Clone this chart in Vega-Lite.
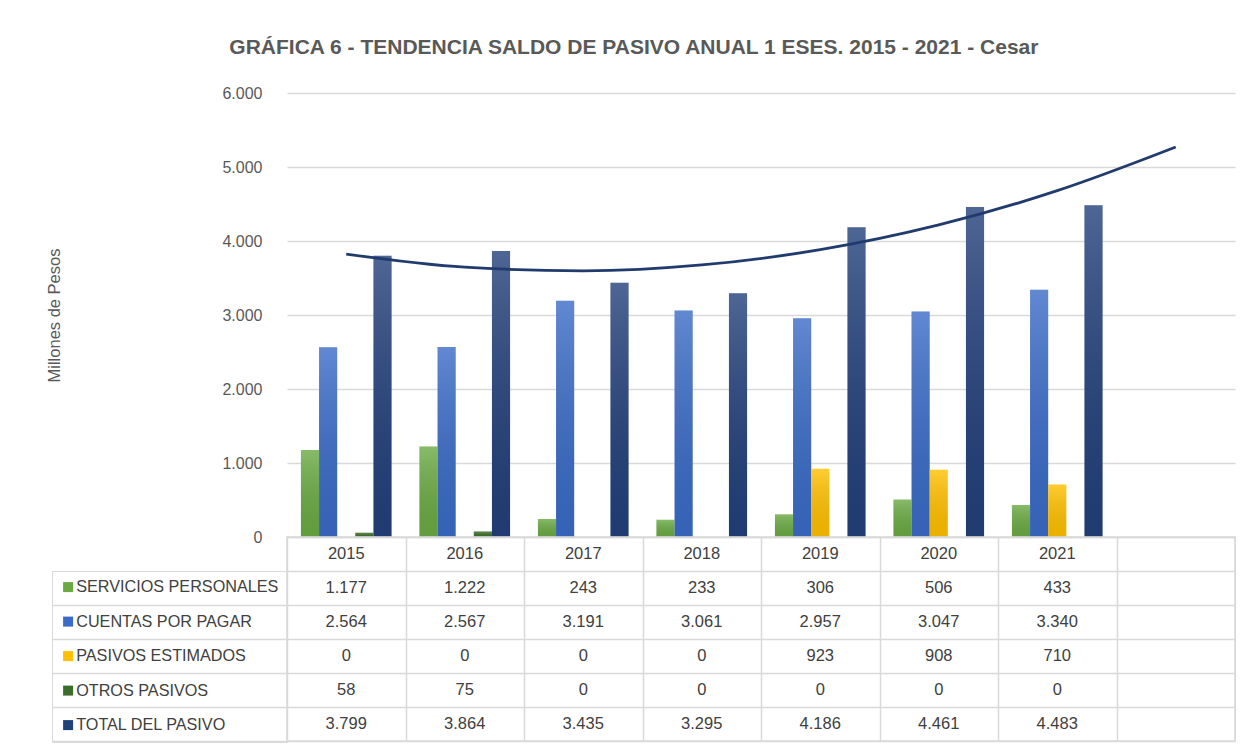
{
  "$schema": "https://vega.github.io/schema/vega-lite/v6.json",
  "padding": {"left": 45, "top": 37, "right": 0, "bottom": 0},
  "background": "white",
  "config": {
    "locale": {"number": {"decimal": ",", "thousands": ".", "grouping": [3], "currency": ["$", ""]}},
    "font": "Liberation Sans",
    "view": {"stroke": null}
  },
  "title": {
    "text": "GRÁFICA 6 - TENDENCIA SALDO DE PASIVO ANUAL 1 ESES. 2015 - 2021 - Cesar",
    "fontSize": 21, "fontWeight": "bold", "color": "#595959",
    "anchor": "middle", "frame": "bounds", "offset": 27, "dx": -7
  },
  "datasets": {
    "d": [
      {"year": "2015", "series": "SERVICIOS PERSONALES", "value": 1177},
      {"year": "2016", "series": "SERVICIOS PERSONALES", "value": 1222},
      {"year": "2017", "series": "SERVICIOS PERSONALES", "value": 243},
      {"year": "2018", "series": "SERVICIOS PERSONALES", "value": 233},
      {"year": "2019", "series": "SERVICIOS PERSONALES", "value": 306},
      {"year": "2020", "series": "SERVICIOS PERSONALES", "value": 506},
      {"year": "2021", "series": "SERVICIOS PERSONALES", "value": 433},
      {"year": "2015", "series": "CUENTAS POR PAGAR", "value": 2564},
      {"year": "2016", "series": "CUENTAS POR PAGAR", "value": 2567},
      {"year": "2017", "series": "CUENTAS POR PAGAR", "value": 3191},
      {"year": "2018", "series": "CUENTAS POR PAGAR", "value": 3061},
      {"year": "2019", "series": "CUENTAS POR PAGAR", "value": 2957},
      {"year": "2020", "series": "CUENTAS POR PAGAR", "value": 3047},
      {"year": "2021", "series": "CUENTAS POR PAGAR", "value": 3340},
      {"year": "2015", "series": "PASIVOS ESTIMADOS", "value": 0},
      {"year": "2016", "series": "PASIVOS ESTIMADOS", "value": 0},
      {"year": "2017", "series": "PASIVOS ESTIMADOS", "value": 0},
      {"year": "2018", "series": "PASIVOS ESTIMADOS", "value": 0},
      {"year": "2019", "series": "PASIVOS ESTIMADOS", "value": 923},
      {"year": "2020", "series": "PASIVOS ESTIMADOS", "value": 908},
      {"year": "2021", "series": "PASIVOS ESTIMADOS", "value": 710},
      {"year": "2015", "series": "OTROS PASIVOS", "value": 58},
      {"year": "2016", "series": "OTROS PASIVOS", "value": 75},
      {"year": "2017", "series": "OTROS PASIVOS", "value": 0},
      {"year": "2018", "series": "OTROS PASIVOS", "value": 0},
      {"year": "2019", "series": "OTROS PASIVOS", "value": 0},
      {"year": "2020", "series": "OTROS PASIVOS", "value": 0},
      {"year": "2021", "series": "OTROS PASIVOS", "value": 0},
      {"year": "2015", "series": "TOTAL DEL PASIVO", "value": 3799},
      {"year": "2016", "series": "TOTAL DEL PASIVO", "value": 3864},
      {"year": "2017", "series": "TOTAL DEL PASIVO", "value": 3435},
      {"year": "2018", "series": "TOTAL DEL PASIVO", "value": 3295},
      {"year": "2019", "series": "TOTAL DEL PASIVO", "value": 4186},
      {"year": "2020", "series": "TOTAL DEL PASIVO", "value": 4461},
      {"year": "2021", "series": "TOTAL DEL PASIVO", "value": 4483}
    ],
    "trend": [
      {"year": "2015", "value": 3823},
      {"year": "2016", "value": 3646},
      {"year": "2017", "value": 3597},
      {"year": "2018", "value": 3676},
      {"year": "2019", "value": 3883},
      {"year": "2020", "value": 4217},
      {"year": "2021", "value": 4680},
      {"year": " ", "value": 5270}
    ],
    "hdr": [
      {"year": "2015"}, {"year": "2016"}, {"year": "2017"}, {"year": "2018"},
      {"year": "2019"}, {"year": "2020"}, {"year": "2021"}
    ]
  },
  "bounds": "flush",
  "spacing": 0,
  "resolve": {"scale": {"x": "independent", "y": "independent"}},
  "vconcat": [
    {
      "width": 948,
      "height": 444,
      "layer": [
        {
          "data": {"name": "d"},
          "mark": {"type": "bar"},
          "encoding": {
            "x": {"field": "year", "type": "nominal",
                  "scale": {"domain": ["2015", "2016", "2017", "2018", "2019", "2020", "2021", " "], "paddingInner": 0.235, "paddingOuter": 0.1175},
                  "axis": null},
            "xOffset": {"field": "series", "type": "nominal",
                        "scale": {"domain": ["SERVICIOS PERSONALES", "CUENTAS POR PAGAR", "PASIVOS ESTIMADOS", "OTROS PASIVOS", "TOTAL DEL PASIVO"], "paddingInner": 0, "paddingOuter": 0}},
            "y": {"field": "value", "type": "quantitative",
                  "scale": {"domain": [0, 6000], "nice": false},
                  "axis": {
                    "title": "Millones de Pesos", "values": [0, 1000, 2000, 3000, 4000, 5000, 6000],
                    "format": ",d", "labelFontSize": 16, "labelColor": "#595959", "labelPadding": 25,
                    "domain": false, "ticks": false, "grid": true, "gridColor": "#d9d9d9", "gridWidth": 1.5,
                    "titleFontSize": 16.5, "titleFontWeight": "normal", "titleColor": "#595959",
                    "titleX": -233, "titleY": 222, "titleAngle": -90, "titleBaseline": "middle", "titleAlign": "center"
                  }},
            "color": {"field": "series", "type": "nominal",
                      "scale": {"domain": ["SERVICIOS PERSONALES", "CUENTAS POR PAGAR", "PASIVOS ESTIMADOS", "OTROS PASIVOS", "TOTAL DEL PASIVO"],
                                "range": ["#6aaa43", "#3a6bc6", "#ffc000", "#3b6e2a", "#22407a"]},
                      "legend": {
                        "orient": "none", "legendX": -235, "legendY": 478, "title": null,
                        "symbolType": "square", "symbolSize": 100, "symbolStrokeWidth": 0,
                        "labelFontSize": 16.2, "labelColor": "#404040", "labelOffset": 0, "labelLimit": 400,
                        "rowPadding": 17.5, "padding": 8, "strokeColor": "#d9d9d9"
                      }}
          }
        },
        {
          "data": {"name": "d"},
          "mark": {"type": "bar", "color": {"gradient": "linear", "x1": 0, "y1": 0, "x2": 0, "y2": 1,
                   "stops": [{"offset": 0, "color": "rgba(255,255,255,0.2)"}, {"offset": 1, "color": "rgba(0,0,0,0.08)"}]}},
          "encoding": {
            "x": {"field": "year", "type": "nominal"},
            "xOffset": {"field": "series", "type": "nominal"},
            "y": {"field": "value", "type": "quantitative"}
          }
        },
        {
          "data": {"name": "trend"},
          "mark": {"type": "line", "interpolate": "monotone", "color": "#213b6e", "strokeWidth": 2.8},
          "encoding": {
            "x": {"field": "year", "type": "nominal"},
            "y": {"field": "value", "type": "quantitative"}
          }
        }
      ]
    },
    {
      "width": 948,
      "height": 204,
      "view": {"stroke": "#d9d9d9", "strokeWidth": 1.5},
      "layer": [
        {
          "data": {"name": "d"},
          "mark": {"type": "text", "fontSize": 16.5, "color": "#404040"},
          "encoding": {
            "x": {"field": "year", "type": "nominal",
                  "scale": {"domain": ["2015", "2016", "2017", "2018", "2019", "2020", "2021", " "], "paddingInner": 0, "paddingOuter": 0},
                  "axis": {"orient": "top", "labels": false, "ticks": false, "domain": false, "grid": true, "tickBand": "extent",
                           "gridColor": "#d9d9d9", "gridWidth": 1.5, "title": null}},
            "y": {"field": "series", "type": "nominal",
                  "scale": {"domain": ["hdr", "SERVICIOS PERSONALES", "CUENTAS POR PAGAR", "PASIVOS ESTIMADOS", "OTROS PASIVOS", "TOTAL DEL PASIVO"], "paddingInner": 0, "paddingOuter": 0},
                  "axis": {"labels": false, "domain": false, "grid": true, "tickBand": "extent", "gridColor": "#d9d9d9", "gridWidth": 1.5,
                           "ticks": true, "tickSize": 235, "tickColor": "#d9d9d9", "tickWidth": 1.5,
                           "tickOpacity": {"condition": {"test": "datum.value === 'hdr' || datum.extra", "value": 0}, "value": 1},
                           "title": null}},
            "text": {"field": "value", "type": "quantitative", "format": ",d"}
          }
        },
        {
          "data": {"name": "hdr"},
          "mark": {"type": "text", "fontSize": 16.5, "color": "#404040"},
          "encoding": {
            "x": {"field": "year", "type": "nominal"},
            "y": {"datum": "hdr", "type": "nominal"},
            "text": {"field": "year", "type": "nominal"}
          }
        }
      ]
    }
  ]
}
